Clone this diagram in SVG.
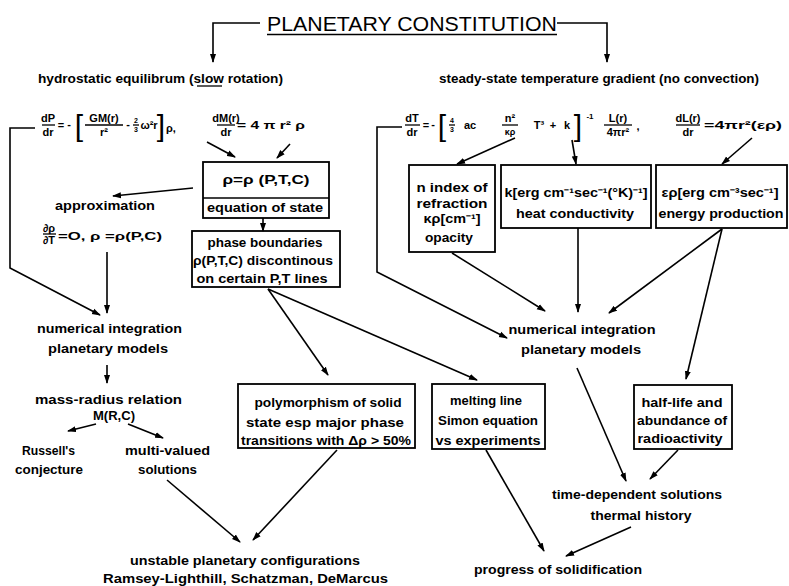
<svg xmlns="http://www.w3.org/2000/svg" width="789" height="586" viewBox="0 0 789 586">
<defs>
<marker id="ah" markerUnits="userSpaceOnUse" markerWidth="9" markerHeight="7" refX="8" refY="3.5" orient="auto">
<path d="M0,0.5 L9,3.5 L0,6.5 z" fill="#000"/>
</marker>
<style>
.t{font-family:"Liberation Sans",Arial,sans-serif;font-weight:bold;font-size:12px;fill:#000;text-anchor:middle}
.m{font-family:"Liberation Sans",Arial,sans-serif;font-weight:bold;font-size:11px;fill:#000;text-anchor:middle}
.b{font-family:"Liberation Sans",Arial,sans-serif;font-size:30px;fill:#000;text-anchor:middle}
.s{text-anchor:start}
.box{fill:none;stroke:#000;stroke-width:1.8}
.c{fill:none;stroke:#000;stroke-width:1.6}
.ca{fill:none;stroke:#000;stroke-width:1.6;marker-end:url(#ah)}
.fb{stroke:#000;stroke-width:1.3}
</style>
</defs>
<rect width="789" height="586" fill="#fff"/>

<g id="title">
<text x="267" y="31" class="t s" style="font-weight:normal;font-size:21px" textLength="290" lengthAdjust="spacingAndGlyphs">PLANETARY CONSTITUTION</text>
<line x1="267" y1="34.5" x2="557" y2="34.5" class="fb"/>
</g>

<g id="hydrostatic">
<text x="38" y="83" class="t s" textLength="245" lengthAdjust="spacingAndGlyphs">hydrostatic equilibrum (slow rotation)</text>
<line x1="197" y1="86" x2="222" y2="86" class="fb"/>
</g>

<g id="eq-left">
<text x="48" y="122" class="m">dP</text><line x1="42" y1="125" x2="55" y2="125" class="fb"/><text x="48" y="136" class="m">dr</text>
<text x="61" y="129" class="m">=</text><text x="69" y="128" class="m">-</text>
<text x="79" y="136" class="b">[</text>
<text x="104" y="122" class="m">GM(r)</text><line x1="85" y1="125" x2="123" y2="125" class="fb"/><text x="104" y="136" class="m">r²</text>
<text x="128" y="128" class="m">-</text>
<text x="136" y="123" class="m" style="font-size:7px">2</text><line x1="133" y1="125" x2="139" y2="125" class="fb"/><text x="136" y="132" class="m" style="font-size:7px">3</text>
<text x="149" y="129" class="m">ω²r</text>
<text x="161" y="136" class="b">]</text>
<text x="171" y="132" class="m">ρ,</text>
<text x="226" y="122" class="m">dM(r)</text><line x1="217" y1="125" x2="235" y2="125" class="fb"/><text x="226" y="136" class="m">dr</text>
<text x="237" y="129" class="m s" textLength="68" lengthAdjust="spacingAndGlyphs">= 4 π r² ρ</text>
</g>

<g id="eos">
<rect x="203" y="162" width="126" height="56" class="box"/>
<line x1="203" y1="198" x2="329" y2="198" class="fb"/>
<text x="266" y="184" class="t" textLength="87" lengthAdjust="spacingAndGlyphs">ρ=ρ (P,T,C)</text>
<text x="265" y="212" class="t" textLength="116" lengthAdjust="spacingAndGlyphs">equation of state</text>
</g>

<g id="approximation">
<text x="105" y="210" class="t" textLength="100" lengthAdjust="spacingAndGlyphs">approximation</text>
<text x="49" y="232" class="m">∂ρ</text><line x1="43" y1="234" x2="56" y2="234" class="fb"/><text x="49" y="244" class="m">∂T</text>
<text x="58" y="240" class="m s" textLength="104" lengthAdjust="spacingAndGlyphs">=O,  ρ =ρ(P,C)</text>
</g>

<g id="phase">
<rect x="192" y="231" width="148" height="56" class="box"/>
<text x="265" y="247" class="t" textLength="115" lengthAdjust="spacingAndGlyphs">phase boundaries</text>
<text x="263" y="265" class="t" textLength="140" lengthAdjust="spacingAndGlyphs">ρ(P,T,C) discontinous</text>
<text x="262" y="283" class="t" textLength="131" lengthAdjust="spacingAndGlyphs">on certain P,T lines</text>
</g>

<g id="numint-left">
<text x="109.5" y="333" class="t" textLength="145" lengthAdjust="spacingAndGlyphs">numerical integration</text>
<text x="108" y="353" class="t" textLength="120" lengthAdjust="spacingAndGlyphs">planetary models</text>
</g>

<g id="mass-radius">
<text x="108.5" y="404" class="t" textLength="147" lengthAdjust="spacingAndGlyphs">mass-radius relation</text>
<text x="114" y="420" class="t" textLength="42" lengthAdjust="spacingAndGlyphs">M(R,C)</text>
</g>

<g id="russell">
<text x="48.5" y="455" class="t" textLength="53" lengthAdjust="spacingAndGlyphs">Russell's</text>
<text x="49" y="474" class="t" textLength="68" lengthAdjust="spacingAndGlyphs">conjecture</text>
</g>

<g id="multivalued">
<text x="167.5" y="455" class="t" textLength="85" lengthAdjust="spacingAndGlyphs">multi-valued</text>
<text x="167.5" y="474" class="t" textLength="59" lengthAdjust="spacingAndGlyphs">solutions</text>
</g>

<g id="polymorphism">
<rect x="238" y="384" width="177" height="64" class="box"/>
<text x="328" y="407" class="t" textLength="147" lengthAdjust="spacingAndGlyphs">polymorphism of solid</text>
<text x="325" y="427" class="t" textLength="158" lengthAdjust="spacingAndGlyphs">state esp major phase</text>
<text x="326" y="445" class="t" textLength="170" lengthAdjust="spacingAndGlyphs">transitions with Δρ &gt; 50%</text>
</g>

<g id="melting">
<rect x="432" y="384" width="113" height="65" class="box"/>
<text x="486" y="405" class="t" textLength="72" lengthAdjust="spacingAndGlyphs">melting line</text>
<text x="488" y="425" class="t" textLength="100" lengthAdjust="spacingAndGlyphs">Simon equation</text>
<text x="488" y="445" class="t" textLength="105" lengthAdjust="spacingAndGlyphs">vs experiments</text>
</g>

<g id="unstable">
<text x="245" y="565" class="t" textLength="230" lengthAdjust="spacingAndGlyphs">unstable planetary configurations</text>
<text x="245.5" y="583" class="t" textLength="285" lengthAdjust="spacingAndGlyphs">Ramsey-Lighthill, Schatzman, DeMarcus</text>
</g>

<g id="steady-state">
<text x="439" y="83" class="t s" textLength="320" lengthAdjust="spacingAndGlyphs">steady-state temperature gradient (no convection)</text>
</g>

<g id="eq-right">
<text x="412" y="122" class="m">dT</text><line x1="405" y1="125" x2="420" y2="125" class="fb"/><text x="412" y="136" class="m">dr</text>
<text x="426" y="129" class="m">=</text><text x="433" y="128" class="m">-</text>
<text x="442" y="136" class="b">[</text>
<text x="452" y="123" class="m" style="font-size:7px">4</text><line x1="449" y1="125" x2="455" y2="125" class="fb"/><text x="452" y="132" class="m" style="font-size:7px">3</text>
<text x="470" y="129" class="m">ac</text>
<text x="510" y="122" class="m">n²</text><line x1="502" y1="125" x2="518" y2="125" class="fb"/><text x="510" y="135" class="m" style="font-size:9px">κρ</text>
<text x="539" y="129" class="m">T³</text>
<text x="553" y="129" class="m">+</text>
<text x="567" y="129" class="m">k</text>
<text x="578" y="136" class="b">]</text>
<text x="590" y="119" class="m" style="font-size:8px">-1</text>
<text x="618" y="122" class="m">L(r)</text><line x1="604" y1="125" x2="632" y2="125" class="fb"/><text x="618" y="136" class="m">4πr²</text>
<text x="638" y="130" class="m">,</text>
<text x="688" y="122" class="m">dL(r)</text><line x1="676" y1="125" x2="700" y2="125" class="fb"/><text x="688" y="136" class="m">dr</text>
<text x="704" y="129" class="m s" textLength="78" lengthAdjust="spacingAndGlyphs">=4πr²(ερ)</text>
</g>

<g id="opacity">
<rect x="409" y="165" width="86" height="87" class="box"/>
<text x="452" y="192" class="t" textLength="71" lengthAdjust="spacingAndGlyphs">n index of</text>
<text x="452" y="208" class="t" textLength="71" lengthAdjust="spacingAndGlyphs">refraction</text>
<text x="452" y="223" class="t" textLength="57" lengthAdjust="spacingAndGlyphs">κρ[cm⁻¹]</text>
<text x="449" y="242" class="t" textLength="48" lengthAdjust="spacingAndGlyphs">opacity</text>
</g>

<g id="heat">
<rect x="501" y="165" width="150" height="63" class="box"/>
<text x="576" y="197" class="t" textLength="143" lengthAdjust="spacingAndGlyphs">k[erg cm⁻¹sec⁻¹(°K)⁻¹]</text>
<text x="575" y="218" class="t" textLength="118" lengthAdjust="spacingAndGlyphs">heat conductivity</text>
</g>

<g id="energy">
<rect x="656" y="165" width="131" height="63" class="box"/>
<text x="720" y="197" class="t" textLength="117" lengthAdjust="spacingAndGlyphs">ερ[erg cm⁻³sec⁻¹]</text>
<text x="721" y="218" class="t" textLength="125" lengthAdjust="spacingAndGlyphs">energy production</text>
</g>

<g id="numint-right">
<text x="582" y="334" class="t" textLength="147" lengthAdjust="spacingAndGlyphs">numerical integration</text>
<text x="581" y="354" class="t" textLength="120" lengthAdjust="spacingAndGlyphs">planetary models</text>
</g>

<g id="halflife">
<rect x="634" y="385" width="98" height="64" class="box"/>
<text x="682" y="407" class="t" textLength="81" lengthAdjust="spacingAndGlyphs">half-life and</text>
<text x="682" y="425" class="t" textLength="90" lengthAdjust="spacingAndGlyphs">abundance of</text>
<text x="680" y="443" class="t" textLength="85" lengthAdjust="spacingAndGlyphs">radioactivity</text>
</g>

<g id="timedep">
<text x="637" y="499" class="t" textLength="170" lengthAdjust="spacingAndGlyphs">time-dependent solutions</text>
<text x="641" y="520" class="t" textLength="101" lengthAdjust="spacingAndGlyphs">thermal history</text>
</g>

<g id="progress">
<text x="558" y="574" class="t" textLength="168" lengthAdjust="spacingAndGlyphs">progress of solidification</text>
</g>

<g id="connectors">
<path d="M260,23 H213 V62" class="ca"/>
<path d="M557,23 H607 V62" class="ca"/>
<path d="M35,128 H10 V268 L100,315" class="ca"/>
<path d="M207,142 L235,157" class="ca"/>
<path d="M290,144 L277,158" class="ca"/>
<path d="M193,188 L113,196" class="ca"/>
<path d="M263,218 V231" class="ca"/>
<path d="M107,252 V313" class="ca"/>
<path d="M268,289 L328,375" class="ca"/>
<path d="M268,289 L477,380" class="ca"/>
<path d="M107,365 V383" class="ca"/>
<path d="M96,424 L68,431" class="ca"/>
<path d="M128,424 L163,438" class="ca"/>
<path d="M167,480 L240,542" class="ca"/>
<path d="M337,450 L253,540" class="ca"/>
<path d="M402,127 H377 V272 L507,338" class="ca"/>
<path d="M515,138 L457,164" class="ca"/>
<path d="M572,140 L576,164" class="ca"/>
<path d="M752,138 L722,164" class="ca"/>
<path d="M452,253 L545,311" class="ca"/>
<path d="M578,228 V312" class="ca"/>
<path d="M722,229 L609,313" class="ca"/>
<path d="M722,229 L686,379" class="ca"/>
<path d="M577,368 L626,481" class="ca"/>
<path d="M678,450 L650,479" class="ca"/>
<path d="M486,450 L544,551" class="ca"/>
<path d="M631,527 L566,556" class="ca"/>
</g>
</svg>
